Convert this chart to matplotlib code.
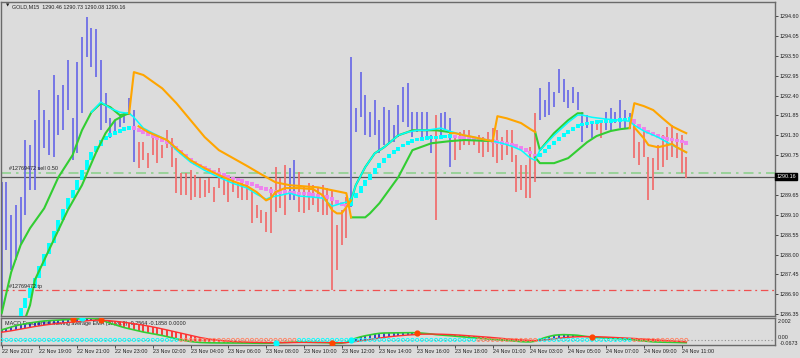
import numpy as np
import matplotlib.pyplot as plt

# GOLD M15, bar 0 = 22 Nov 17:00
bar_high = [1290.00, 1290.00, 1289.09, 1289.37, 1289.59, 1291.17, 1291.03, 1291.72, 1292.55, 1292.00,
            1291.72, 1292.96, 1292.41, 1292.69, 1293.38, 1291.77, 1293.32, 1294.02, 1294.57, 1294.26,
            1294.24, 1293.38, 1292.47, 1291.77, 1291.72, 1291.86, 1291.91, 1292.33, 1292.00, 1291.11,
            1291.11, 1290.80, 1291.30, 1291.17, 1291.03, 1291.44, 1291.22, 1290.67, 1290.25, 1290.25,
            1290.33, 1290.20, 1290.11, 1290.06, 1290.11, 1289.86, 1290.39, 1290.20, 1290.06, 1290.06,
            1289.97, 1289.97, 1289.97, 1289.78, 1289.37, 1289.23, 1289.17, 1289.86, 1290.42, 1290.11,
            1290.47, 1290.39, 1290.61, 1290.28, 1289.86, 1289.97, 1289.92, 1289.84, 1289.92, 1289.84,
            1289.78, 1288.81, 1289.23, 1289.59, 1293.46, 1292.05, 1293.05, 1292.41, 1291.94, 1292.27,
            1291.72, 1292.08, 1292.00, 1291.58, 1292.13, 1292.63, 1292.74, 1291.94, 1291.94, 1291.94,
            1291.94, 1291.30, 1291.86, 1291.91, 1291.94, 1291.77, 1291.30, 1291.39, 1291.44, 1291.44,
            1291.22, 1291.30, 1291.25, 1291.39, 1291.50, 1291.44, 1291.25, 1291.44, 1291.44, 1290.75,
            1290.47, 1290.47, 1290.97, 1291.91, 1292.60, 1292.27, 1292.77, 1292.49, 1293.13, 1292.85,
            1292.55, 1292.63, 1292.49, 1291.94, 1291.86, 1291.66, 1291.66, 1291.66, 1291.94, 1292.05,
            1291.94, 1292.27, 1292.00, 1291.91, 1291.72, 1291.11, 1291.44, 1290.69, 1290.67, 1291.03,
            1291.30, 1291.52, 1291.58, 1291.36, 1291.30, 1290.69]
bar_low = [1286.38, 1288.12, 1287.57, 1287.84, 1288.26, 1289.09, 1289.78, 1289.78, 1290.33, 1290.94,
           1290.75, 1290.69, 1291.30, 1291.44, 1292.00, 1290.61, 1290.80, 1291.91, 1293.46, 1293.19,
           1292.91, 1291.44, 1291.64, 1291.22, 1291.30, 1291.52, 1291.64, 1291.86, 1290.56, 1290.39,
           1290.61, 1290.39, 1290.75, 1290.53, 1290.67, 1290.94, 1290.42, 1289.70, 1289.64, 1289.64,
           1289.50, 1289.59, 1289.56, 1289.59, 1289.70, 1289.45, 1289.84, 1289.64, 1289.45, 1289.73,
           1289.56, 1289.50, 1289.50, 1288.87, 1289.01, 1288.87, 1288.62, 1288.59, 1289.17, 1289.28,
           1289.09, 1289.50, 1289.50, 1289.17, 1289.14, 1289.23, 1289.37, 1289.17, 1289.09, 1289.09,
           1287.01, 1287.57, 1288.26, 1288.45, 1289.31, 1291.39, 1291.80, 1291.30, 1291.25, 1291.30,
           1290.80, 1291.03, 1291.08, 1291.11, 1291.25, 1291.66, 1291.52, 1291.25, 1291.39, 1291.25,
           1291.25, 1290.80, 1288.95, 1291.25, 1291.44, 1290.42, 1290.61, 1290.89, 1291.03, 1291.03,
           1291.03, 1290.80, 1290.69, 1290.83, 1290.69, 1290.53, 1290.61, 1290.75, 1290.56, 1289.73,
           1289.78, 1289.56, 1289.56, 1290.00, 1291.72, 1291.80, 1291.86, 1292.08, 1292.47, 1292.22,
           1292.05, 1292.19, 1292.00, 1291.11, 1291.50, 1291.22, 1291.44, 1291.22, 1291.44, 1291.44,
           1291.64, 1291.50, 1291.50, 1291.50, 1290.67, 1290.47, 1290.69, 1289.50, 1289.78, 1290.33,
           1290.42, 1290.61, 1290.69, 1290.67, 1290.25, 1290.11]
bar_dir = ("11111111111111111111111111111" + "00000000000000000000000000000000" + "11" +
           "00000000000" + "111111111111111111" + "0" + "111" + "000000000000000000" +
           "111111111111" + "00" + "111111" + "000000000000")

# smoothed heiken ashi line (thick blocks)
ha_line = [None, None, None, 1286.29, 1286.51, 1286.79, 1287.07, 1287.35, 1287.68, 1288.01,
           1288.31, 1288.65, 1288.95, 1289.25, 1289.56, 1289.78, 1290.06, 1290.33, 1290.61, 1290.83,
           1291.00, 1291.17, 1291.28, 1291.33, 1291.39, 1291.44, 1291.50, 1291.52, 1291.47, 1291.41,
           1291.36, 1291.30, 1291.25, 1291.19, 1291.14, 1291.08, 1291.00, 1290.89, 1290.78, 1290.67,
           1290.58, 1290.50, 1290.42, 1290.36, 1290.31, 1290.25, 1290.22, 1290.17, 1290.11, 1290.09,
           1290.06, 1290.00, 1289.97, 1289.92, 1289.86, 1289.84, 1289.78, 1289.75, 1289.74, 1289.73,
           1289.72, 1289.71, 1289.70, 1289.69, 1289.68, 1289.66, 1289.64, 1289.62, 1289.60, 1289.57,
           1289.50, 1289.42, 1289.37, 1289.34, 1289.56, 1289.70, 1289.89, 1290.06, 1290.22, 1290.39,
           1290.53, 1290.67, 1290.78, 1290.89, 1290.97, 1291.06, 1291.11, 1291.17, 1291.19, 1291.22,
           1291.23, 1291.24, 1291.25, 1291.26, 1291.27, 1291.28, 1291.25, 1291.24, 1291.22, 1291.21,
           1291.19, 1291.18, 1291.16, 1291.15, 1291.13, 1291.11, 1291.08, 1291.06, 1291.03, 1290.97,
           1290.92, 1290.86, 1290.78, 1290.69, 1290.80, 1290.92, 1291.03, 1291.14, 1291.25, 1291.36,
           1291.44, 1291.52, 1291.58, 1291.61, 1291.64, 1291.66, 1291.68, 1291.69, 1291.70, 1291.71,
           1291.72, 1291.73, 1291.74, 1291.75, 1291.61, 1291.52, 1291.44, 1291.36, 1291.30, 1291.25,
           1291.22, 1291.19, 1291.17, 1291.14, 1291.11, 1291.08]

# channel lines: (bar, price) vertices
green_lines = [
    [(0, 1286.38), (2, 1287.51), (4, 1288.26), (6, 1288.73), (9, 1289.28), (12, 1290.14), (15, 1290.75),
     (17, 1291.44), (19, 1291.94), (21, 1292.19), (23, 1292.08), (25, 1291.86), (27, 1291.91)],
    [(5, 1286.24), (6, 1286.60), (7, 1287.29), (8, 1287.57), (11, 1288.40), (14, 1289.23), (17, 1289.92),
     (20, 1290.83), (22, 1291.36), (24, 1291.72), (26, 1291.86), (27, 1291.91)],
    [(74, 1289.50), (75, 1289.92), (77, 1290.42), (79, 1290.80), (81, 1290.97), (84, 1291.30), (86, 1291.39),
     (87, 1291.44), (90, 1291.44), (92, 1291.44), (95, 1291.39)],
    [(74, 1289.03), (77, 1289.03), (78, 1289.14), (80, 1289.42), (84, 1290.14), (87, 1290.89), (91, 1291.08),
     (95, 1291.14), (98, 1291.17), (104, 1291.14)],
    [(113, 1290.69), (114, 1290.53), (117, 1290.53), (120, 1290.67), (122, 1290.89), (124, 1291.11),
     (126, 1291.28), (129, 1291.42), (131, 1291.47), (133, 1291.50)],
    [(113, 1291.39), (114, 1290.89), (117, 1291.36), (120, 1291.72), (122, 1291.91), (123, 1291.91)],
]
orange_lines = [
    [(27, 1291.91), (28, 1293.05), (30, 1292.97), (34, 1292.60), (37, 1292.19), (40, 1291.72), (43, 1291.25),
     (46, 1290.89), (49, 1290.67), (52, 1290.45), (55, 1290.22), (58, 1290.00), (61, 1289.92), (64, 1289.89),
     (67, 1289.86), (70, 1289.78), (73, 1289.70), (74, 1289.03)],
    [(29, 1291.55), (31, 1291.39), (35, 1291.17), (37, 1290.94), (40, 1290.61), (43, 1290.39), (46, 1290.20),
     (49, 1290.03), (52, 1289.89), (54, 1289.73), (56, 1289.50), (57, 1289.56), (58, 1289.73), (60, 1289.84),
     (63, 1289.84), (66, 1289.81), (68, 1289.64), (70, 1289.23), (71, 1289.14), (72, 1289.14), (73, 1289.31),
     (74, 1289.50)],
    [(95, 1291.36), (96, 1291.36), (98, 1291.30), (100, 1291.25), (102, 1291.19), (104, 1291.14)],
    [(104, 1291.14), (105, 1291.83), (107, 1291.77), (110, 1291.64), (112, 1291.47), (113, 1291.39)],
    [(133, 1291.50), (134, 1292.19), (136, 1292.11), (138, 1292.00), (140, 1291.77), (142, 1291.55),
     (144, 1291.42), (145, 1291.36)],
    [(134, 1291.52), (136, 1291.22), (137, 1291.03), (139, 1290.97), (141, 1291.03), (142, 1291.06),
     (143, 1290.97), (145, 1290.83)],
]
cyan_line = [(19, 1291.94), (21, 1292.22), (23, 1292.05), (25, 1291.94), (27, 1291.91), (28, 1291.80),
             (30, 1291.50), (32, 1291.36), (35, 1291.17), (37, 1290.89), (40, 1290.56), (43, 1290.33),
             (46, 1290.14), (49, 1289.97), (52, 1289.84), (54, 1289.67), (56, 1289.53), (57, 1289.59),
             (59, 1289.64), (61, 1289.70), (63, 1289.62), (66, 1289.59), (68, 1289.56), (70, 1289.34),
             (72, 1289.42), (73, 1289.45), (74, 1289.50), (75, 1289.92), (77, 1290.42), (79, 1290.80),
             (81, 1290.97), (84, 1291.30), (86, 1291.39), (88, 1291.44), (90, 1291.44), (93, 1291.50),
             (95, 1291.41), (98, 1291.30), (100, 1291.25), (104, 1291.14), (106, 1291.08), (108, 1291.00),
             (110, 1290.89), (112, 1290.67), (113, 1290.61), (114, 1290.89), (117, 1291.30), (120, 1291.66),
             (122, 1291.86), (123, 1291.86), (125, 1291.80), (128, 1291.75), (131, 1291.72), (133, 1291.69),
             (134, 1291.58), (136, 1291.42), (139, 1291.25), (142, 1291.03), (145, 1290.83)]

# MACD (12,26,9) sub window
macd_main = [0.92, 1.05, 1.18, 1.30, 1.40, 1.48, 1.55, 1.62, 1.68, 1.73,
             1.76, 1.79, 1.81, 1.83, 1.85, 1.88, 1.92, 1.96, 2.00, 1.98,
             1.92, 1.82, 1.68, 1.52, 1.38, 1.25, 1.12, 1.02, 0.92, 0.82,
             0.72, 0.64, 0.56, 0.48, 0.40, 0.30, 0.20, 0.10, 0.00, -0.08,
             -0.15, -0.20, -0.24, -0.26, -0.27, -0.28, -0.28, -0.28, -0.28, -0.28,
             -0.28, -0.28, -0.29, -0.30, -0.30, -0.31, -0.31, -0.30, -0.28, -0.26,
             -0.24, -0.22, -0.20, -0.20, -0.21, -0.22, -0.23, -0.24, -0.25, -0.26,
             -0.30, -0.32, -0.30, -0.22, 0.00, 0.15, 0.28, 0.38, 0.46, 0.54,
             0.60, 0.63, 0.64, 0.64, 0.64, 0.65, 0.66, 0.66, 0.64, 0.62,
             0.58, 0.54, 0.48, 0.45, 0.42, 0.38, 0.34, 0.30, 0.26, 0.22,
             0.19, 0.16, 0.12, 0.08, 0.05, 0.02, -0.01, -0.04, -0.08, -0.12,
             -0.16, -0.18, -0.18, -0.12, 0.05, 0.20, 0.32, 0.42, 0.46, 0.48,
             0.47, 0.45, 0.42, 0.36, 0.30, 0.26, 0.22, 0.19, 0.17, 0.15,
             0.13, 0.11, 0.09, 0.06, 0.00, -0.06, -0.10, -0.14, -0.18, -0.20,
             -0.21, -0.22, -0.23, -0.24, -0.25, -0.2564]
macd_signal = [0.70, 0.76, 0.83, 0.91, 0.99, 1.07, 1.15, 1.22, 1.29, 1.35,
               1.41, 1.46, 1.51, 1.55, 1.59, 1.63, 1.67, 1.71, 1.75, 1.78,
               1.80, 1.80, 1.78, 1.75, 1.71, 1.66, 1.61, 1.55, 1.49, 1.42,
               1.35, 1.27, 1.19, 1.10, 1.01, 0.91, 0.81, 0.71, 0.60, 0.50,
               0.40, 0.31, 0.22, 0.14, 0.07, 0.01, -0.04, -0.08, -0.12, -0.15,
               -0.17, -0.19, -0.21, -0.22, -0.23, -0.24, -0.25, -0.26, -0.26, -0.26,
               -0.26, -0.25, -0.24, -0.23, -0.23, -0.23, -0.23, -0.23, -0.23, -0.24,
               -0.24, -0.25, -0.26, -0.25, -0.20, -0.15, -0.09, -0.03, 0.04, 0.11,
               0.17, 0.23, 0.28, 0.33, 0.37, 0.41, 0.44, 0.47, 0.50, 0.52,
               0.53, 0.53, 0.53, 0.52, 0.51, 0.49, 0.47, 0.44, 0.41, 0.38,
               0.35, 0.32, 0.28, 0.25, 0.21, 0.17, 0.14, 0.10, 0.06, 0.03,
               0.00, -0.03, -0.05, -0.06, -0.04, 0.00, 0.05, 0.10, 0.15, 0.20,
               0.24, 0.27, 0.29, 0.30, 0.30, 0.30, 0.29, 0.28, 0.26, 0.24,
               0.22, 0.20, 0.18, 0.16, 0.13, 0.10, 0.06, 0.03, 0.00, -0.03,
               -0.06, -0.09, -0.12, -0.14, -0.16, -0.1858]
# state of the zero-row dots: (first bar, colour)
dot_states = [(0, 'c'), (38, 'o'), (63, 'c'), (101, 'o'), (114, 'c'), (134, 'o')]
signal_marks = [(15, 1.88, 'o'), (17, 1.96, 'c'), (21, 1.82, 'o'), (58, -0.28, 'c'), (70, -0.30, 'o'),
                (74, 0.0, 'c'), (88, 0.64, 'o'), (125, 0.30, 'o')]

time_labels = ['22 Nov 2017', '22 Nov 19:00', '22 Nov 21:00', '22 Nov 23:00', '23 Nov 02:00',
               '23 Nov 04:00', '23 Nov 06:00', '23 Nov 08:00', '23 Nov 10:00', '23 Nov 12:00',
               '23 Nov 14:00', '23 Nov 16:00', '23 Nov 18:00', '24 Nov 01:00', '24 Nov 03:00',
               '24 Nov 05:00', '24 Nov 07:00', '24 Nov 09:00', '24 Nov 11:00']
price_ticks = [1294.60, 1294.05, 1293.50, 1292.95, 1292.40, 1291.85, 1291.30, 1290.75,
               1289.65, 1289.10, 1288.55, 1288.00, 1287.45, 1286.90, 1286.35]
bid = 1290.16
order_open = 1290.25
order_tp = 1287.01

bg = '#dcdcdc'
frame = '#6a6a6a'
fam = ['Liberation Sans', 'DejaVu Sans']
fs = 3.9
col_up, col_dn = '#6e6ee6', '#f07070'
c_cyan, c_mag = '#00ffff', '#ee82ee'
c_orange, c_green = '#ffa500', '#32cd32'

fig = plt.figure(figsize=(8, 3.58), dpi=100, facecolor=bg)
ax = fig.add_axes([1 / 800, 1 - 316 / 358, 774 / 800, 314 / 358], facecolor=bg)
ax2 = fig.add_axes([1 / 800, 1 - 345 / 358, 774 / 800, 27 / 358], facecolor=bg)

n = len(bar_high)
x = np.arange(n)
xlim = (-0.15, 163.8)

# price bars
for i in range(n):
    c = col_up if bar_dir[i] == '1' else col_dn
    ax.vlines(i, bar_low[i], bar_high[i], color=c, lw=1.3, zorder=2)

# heiken ashi blocks
ha = np.array([np.nan if v is None else v for v in ha_line])
prev_up = True
for i in range(1, n):
    a, b = ha[i - 1], ha[i]
    if np.isnan(a) or np.isnan(b):
        continue
    if b != a:
        prev_up = b > a
    lo, hi = min(a, b), max(a, b)
    if hi - lo < 0.1:
        mid = (hi + lo) / 2
        lo, hi = mid - 0.05, mid + 0.05
    ax.vlines(i, lo, hi, color=c_cyan if prev_up else c_mag, lw=2.8, zorder=3)

for seg in green_lines:
    sx, sy = zip(*seg)
    ax.plot(sx, sy, color=c_green, lw=1.5, zorder=4)
cx, cy = zip(*cyan_line)
ax.plot(cx, cy, color=c_cyan, lw=1.1, zorder=5)
for seg in orange_lines:
    sx, sy = zip(*seg)
    ax.plot(sx, sy, color=c_orange, lw=1.5, zorder=6)

# order lines
ax.axhline(order_open, color='#8fd08f', lw=1.2, ls=(0, (6, 3, 1.5, 3)), zorder=1)
ax.axhline(bid, color='#555555', lw=0.9, zorder=1)
ax.axhline(order_tp, color='#f05050', lw=0.9, ls=(0, (6, 3, 1.5, 3)), zorder=1)
ax.text(1.6, order_open + 0.05, '#12769472 sell 0.50', fontsize=fs, family=fam, color='#202020',
        va='bottom', zorder=8)
ax.text(1.6, order_tp + 0.05, '#12769472 tp', fontsize=fs, family=fam, color='#202020',
        va='bottom', zorder=8)

ax.set_xlim(xlim)
ax.set_ylim(1286.30, 1294.99)
ax.set_xticks([])
ax.yaxis.tick_right()
ax.set_yticks(price_ticks)
ax.set_yticklabels(['%.2f' % p for p in price_ticks], fontsize=fs, family=fam, color='#202020')
ax.tick_params(axis='y', length=2, width=0.6, color='#303030', pad=1.5)
for s in ax.spines.values():
    s.set_color(frame)
    s.set_linewidth(1)
ax.text(0.006, 0.995, '\u25bc', transform=ax.transAxes, fontsize=3.2, family='DejaVu Sans',
        va='top', ha='left', color='#202020')
ax.text(0.014, 0.994, 'GOLD,M15  1290.46 1290.73 1290.08 1290.16', transform=ax.transAxes,
        fontsize=fs, family=fam, va='top', ha='left', color='#202020')
ax.text(1.002, bid, '%.2f' % bid, transform=ax.get_yaxis_transform(), fontsize=fs, family=fam,
        color='white', va='center', ha='left', clip_on=False,
        bbox=dict(boxstyle='square,pad=0.2', fc='black', ec='black'))

# MACD window
mm = np.array(macd_main)
ms = np.array(macd_signal)
ax2.axhline(0, color='#909090', lw=0.8, ls=(0, (1, 2)), zorder=1)
for i in range(n):
    if abs(mm[i] - ms[i]) > 0.02:
        c = '#2020c0' if mm[i] > ms[i] else '#ff2020'
        ax2.vlines(i, min(mm[i], ms[i]), max(mm[i], ms[i]), color=c, lw=1.2, zorder=2)
ax2.plot(x, mm, color=c_green, lw=1.2, zorder=3)
ax2.plot(x, ms, color='#ff3030', lw=1.0, zorder=3)
starts = [s for s, _ in dot_states] + [n]
for j, (s, c) in enumerate(dot_states):
    xs = np.arange(s, starts[j + 1])
    ax2.scatter(xs, np.zeros(len(xs)), s=5, facecolors='none',
                edgecolors=c_cyan if c == 'c' else '#ff8060', lw=0.6, zorder=4)
for k, v, c in signal_marks:
    ax2.scatter([k], [v], s=12, color=c_cyan if c == 'c' else '#ff4500', zorder=5)
ax2.text(0.005, 0.9, 'MACD Exponential moving average EMA (12,26,9) -0.2564 -0.1858 0.0000',
         transform=ax2.transAxes, fontsize=fs, family=fam, va='top', ha='left', color='#202020',
         zorder=1)
ax2.set_xlim(xlim)
ax2.set_ylim(-0.4673, 2.002)
ax2.set_yticks([])
ax2.text(1.004, 0.86, '2.002', transform=ax2.transAxes, fontsize=fs, family=fam, va='center',
         ha='left', color='#202020', clip_on=False)
ax2.text(1.004, 0.26, '0.00', transform=ax2.transAxes, fontsize=fs, family=fam, va='center',
         ha='left', color='#202020', clip_on=False)
ax2.text(1.006, 0.06, '-0.0673', transform=ax2.transAxes, fontsize=fs, family=fam, va='center',
         ha='left', color='#202020', clip_on=False)
ax2.set_xticks(np.arange(0, 8 * len(time_labels), 8))
ax2.set_xticklabels(time_labels, fontsize=fs, family=fam, color='#202020', ha='left')
ax2.tick_params(axis='x', length=2, width=0.6, color='#303030', pad=1)
for s in ax2.spines.values():
    s.set_color(frame)
    s.set_linewidth(1)

fig.savefig('out.png', dpi=100, facecolor=bg)
